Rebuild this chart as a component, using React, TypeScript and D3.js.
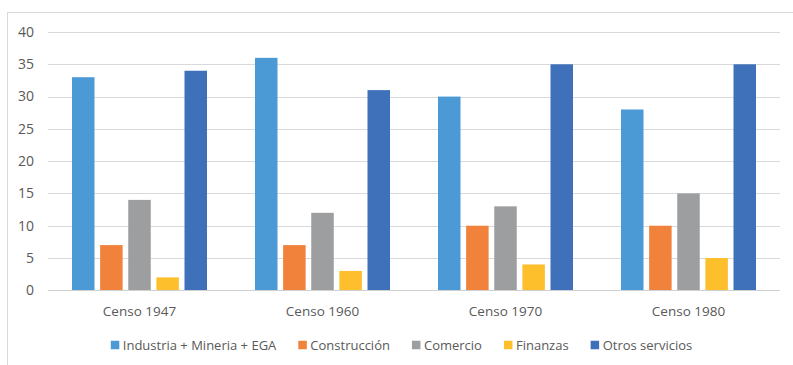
import React, { useEffect, useRef } from "react";
import * as d3 from "d3";

const categories = ["Censo 1947", "Censo 1960", "Censo 1970", "Censo 1980"];
const seriesNames = ["Industria + Mineria + EGA", "Construcción", "Comercio", "Finanzas", "Otros servicios"];
const seriesColors = ["#4C9AD5", "#F0823B", "#9C9E9F", "#FDBF2B", "#3E71BA"];
const industria = [33, 36, 30, 28];
const construccion = [7, 7, 10, 10];
const comercio = [14, 12, 13, 15];
const finanzas = [2, 3, 4, 5];
const otros = [34, 31, 35, 35];
const yTicks = [0, 5, 10, 15, 20, 25, 30, 35, 40];

const W = 793;
const H = 365;
const FONT = "'Open Sans', 'Liberation Sans', sans-serif";

export default function App() {
  const ref = useRef<SVGSVGElement>(null);

  useEffect(() => {
    const svg = d3.select(ref.current);
    svg.selectAll("*").remove();

    const values = [industria, construccion, comercio, finanzas, otros];
    const left = 48, right = 780, top = 32, bottom = 290.3;

    svg.append("rect").attr("x", 7.5).attr("y", 12.5).attr("width", W + 10).attr("height", H + 10)
      .attr("fill", "#fff").attr("stroke", "#D9D9D9").attr("stroke-width", 1);

    const y = d3.scaleLinear().domain([0, 40]).range([bottom, top]);
    const x0 = d3.scaleBand<string>().domain(categories).range([left, right]).paddingInner(0).paddingOuter(0);
    const groupW = 135;
    const x1 = d3.scaleBand<string>().domain(seriesNames).range([0, groupW]).paddingInner(0.2).paddingOuter(0);

    svg.append("g").selectAll("line").data(yTicks.filter(t => t > 0)).join("line")
      .attr("x1", left).attr("x2", right)
      .attr("y1", d => Math.round(y(d)) + 0.5).attr("y2", d => Math.round(y(d)) + 0.5)
      .attr("stroke", "#D9D9D9").attr("stroke-width", 1);

    svg.append("g").selectAll("text").data(yTicks).join("text")
      .attr("x", 34).attr("y", d => y(d)).attr("dy", "0.35em").attr("text-anchor", "end")
      .attr("font-family", FONT).attr("font-size", 14).attr("fill", "#595959")
      .text(d => String(d));

    const g = svg.append("g");
    categories.forEach((c, ci) => {
      const gx = x0(c)! + (x0.bandwidth() - groupW) / 2;
      seriesNames.forEach((s, si) => {
        const v = values[si][ci];
        g.append("rect")
          .attr("x", gx + x1(s)!)
          .attr("y", y(v))
          .attr("width", x1.bandwidth())
          .attr("height", y(0) - y(v))
          .attr("fill", seriesColors[si]);
      });
    });

    svg.append("line").attr("x1", left).attr("x2", right)
      .attr("y1", Math.round(y(0)) + 0.5).attr("y2", Math.round(y(0)) + 0.5)
      .attr("stroke", "#D0D0D0").attr("stroke-width", 1);

    svg.append("g").selectAll("text").data(categories).join("text")
      .attr("x", d => x0(d)! + x0.bandwidth() / 2).attr("y", 311).attr("dy", "0.35em")
      .attr("text-anchor", "middle").attr("font-family", FONT).attr("font-size", 13.5).attr("fill", "#595959")
      .text(d => d);

    const lg = svg.append("g");
    const sq = 8.5, gapT = 3.5, gapItem = 22;
    let cx = 0;
    seriesNames.forEach((s, i) => {
      const it = lg.append("g");
      it.append("rect").attr("x", cx).attr("y", 345 - sq / 2).attr("width", sq).attr("height", sq).attr("fill", seriesColors[i]);
      const t = it.append("text").attr("x", cx + sq + gapT).attr("y", 345).attr("dy", "0.35em")
        .attr("font-family", FONT).attr("font-size", 13).attr("fill", "#595959").text(s);
      const w = (t.node() as SVGTextElement).getComputedTextLength();
      cx += sq + gapT + w + gapItem;
    });
    const totalW = cx - gapItem;
    lg.attr("transform", `translate(${401.5 - totalW / 2},0)`);
  }, []);

  return (
    <svg ref={ref} width={W} height={H} style={{ display: "block", position: "absolute", left: 0, top: 0 }} />
  );
}
